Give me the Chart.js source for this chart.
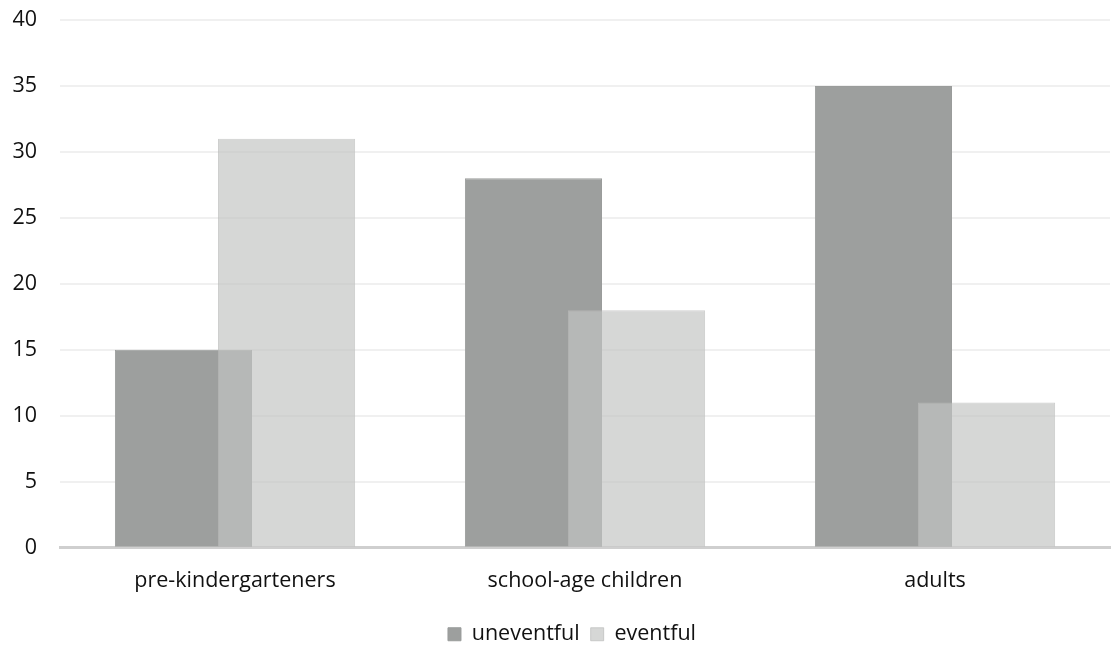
<!DOCTYPE html>
<html>
<head>
<meta charset="utf-8">
<script src="https://cdn.jsdelivr.net/npm/chart.js@4/dist/chart.umd.min.js"></script>
<style>
  html, body { margin: 0; padding: 0; background: #fff; }
  #wrap { width: 1116px; height: 645px; }
</style>
</head>
<body>
<div id="wrap"><canvas id="c" width="1116" height="645"></canvas></div>
<script>
const categories = ['pre-kindergarteners', 'school-age children', 'adults'];
const uneventful = [15, 28, 35];
const eventful = [31, 18, 11];
const yTicks = [0, 5, 10, 15, 20, 25, 30, 35, 40];

const FONT = '"Open Sans", "Noto Sans", sans-serif';
const FONT_SIZE = 21.5;
const TEXT = '#111';
const gridLine = 'rgba(191,191,191,0.24)';
const LEGEND_SHIFT = 17;

// Bars are grouped left-to-right, but the right-hand series ("eventful")
// has to sit on top of the left one where they overlap. Skip it in the
// normal pass and paint it after the other datasets.
const LATE_INDEX = 1;
const lateDatasetPlugin = {
  id: 'lateDataset',
  beforeDatasetDraw(chart, args) {
    if (args.index === LATE_INDEX && !chart.$lateDrawing) return false;
  },
  afterDatasetsDraw(chart) {
    const meta = chart.getDatasetMeta(LATE_INDEX);
    if (!meta || meta.hidden) return;
    chart.$lateDrawing = true;
    chart.ctx.save();
    meta.controller.draw();
    chart.ctx.restore();
    chart.$lateDrawing = false;
  }
};

// Nudge the legend a little to the right of the canvas centre.
const legendShiftPlugin = {
  id: 'legendShift',
  afterLayout(chart) {
    if (chart.legend) {
      chart.legend.left += LEGEND_SHIFT;
      chart.legend.right += LEGEND_SHIFT;
    }
  }
};

new Chart(document.getElementById('c'), {
  type: 'bar',
  data: {
    labels: categories,
    datasets: [
      {
        label: 'uneventful',
        data: uneventful,
        backgroundColor: '#9d9f9e',
        borderColor: '#9a9c9b',
        borderWidth: 1,
        categoryPercentage: 0.589,
        barPercentage: 1.33
      },
      {
        label: 'eventful',
        data: eventful,
        backgroundColor: 'rgba(194,196,195,0.68)',
        borderColor: 'rgba(186,188,187,0.7)',
        borderWidth: 1,
        categoryPercentage: 0.589,
        barPercentage: 1.33
      }
    ]
  },
  plugins: [lateDatasetPlugin, legendShiftPlugin],
  options: {
    responsive: false,
    animation: false,
    layout: { padding: { top: 20, right: 6, bottom: -10, left: 0 } },
    plugins: {
      legend: {
        position: 'bottom',
        labels: {
          color: TEXT,
          font: { family: FONT, size: FONT_SIZE },
          boxWidth: 13,
          boxHeight: 13,
          padding: 11
        }
      },
      tooltip: { enabled: false }
    },
    scales: {
      x: {
        z: 1,
        afterFit: s => { s.paddingLeft = 0; s.paddingRight = 0; s.height -= 1; },
        grid: { display: false, drawTicks: false },
        border: { display: true, color: '#cfcfcf', width: 3 },
        ticks: {
          color: TEXT,
          font: { family: FONT, size: FONT_SIZE },
          padding: 20
        }
      },
      y: {
        z: 1,
        min: 0,
        max: 40,
        afterBuildTicks: s => { s.ticks = yTicks.map(v => ({ value: v })); },
        afterFit: s => { s.width = 60; s.paddingTop = 0; s.paddingBottom = 0; },
        grid: { color: gridLine, lineWidth: 2, drawTicks: false },
        border: { display: false },
        ticks: {
          color: TEXT,
          font: { family: FONT, size: FONT_SIZE },
          padding: 23
        }
      }
    }
  }
});
</script>
</body>
</html>
